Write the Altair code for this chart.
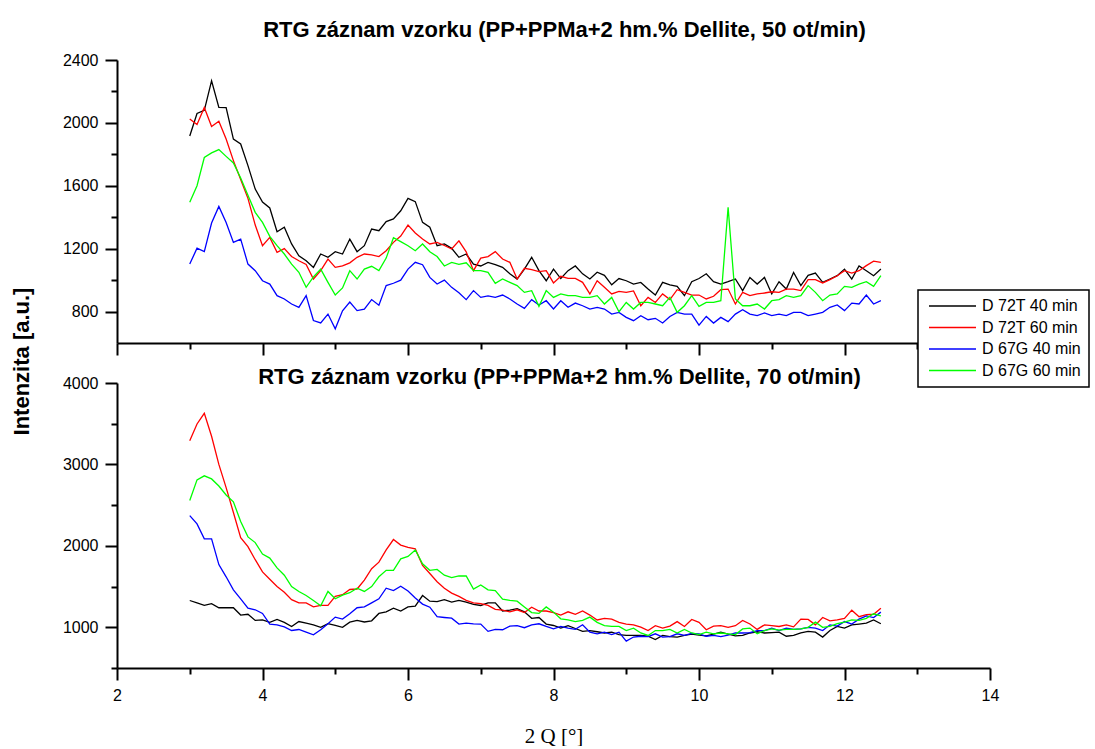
import altair as alt
import pandas as pd

# sampling grid of 2-theta (deg)
X = [round(3.0 + 0.1 * i, 1) for i in range(96)]

SERIES = ["D 72T 40 min", "D 72T 60 min", "D 67G 40 min", "D 67G 60 min"]
COLORS = ["#000000", "#ff0000", "#0000ff", "#00ff00"]

# ---- panel 1: 50 ot/min ----
p50_72T_40 = [1917, 2060, 2080, 2268, 2099, 2097, 1897, 1866, 1728, 1579,
              1497, 1459, 1308, 1336, 1230, 1155, 1123, 1081, 1166, 1145,
              1181, 1166, 1261, 1181, 1219, 1325, 1314, 1372, 1389, 1441,
              1520, 1499, 1367, 1336, 1219, 1230, 1202, 1145, 1166, 1102,
              1090, 1113, 1098, 1081, 1040, 1007, 1070, 1145, 1060, 996,
              1070, 1010, 1060, 1090, 1040, 1007, 1050, 1030, 970, 1010,
              996, 975, 985, 943, 905, 986, 970, 960, 901, 990,
              1010, 1040, 990, 975, 990, 1007, 933, 1017, 975, 1017,
              912, 990, 943, 1049, 965, 1030, 1045, 986, 1007, 1028,
              1070, 1007, 1090, 1060, 1028, 1070]
p50_72T_60 = [2025, 1990, 2098, 1977, 2010, 1897, 1760, 1640, 1520, 1350,
              1219, 1272, 1177, 1200, 1150, 1123, 1100, 1007, 1060, 1134,
              1081, 1090, 1110, 1145, 1166, 1160, 1150, 1187, 1240, 1280,
              1350, 1300, 1261, 1230, 1240, 1220, 1198, 1250, 1180, 1060,
              1140, 1150, 1181, 1134, 1113, 1007, 1075, 1066, 1054, 1060,
              982, 1024, 1011, 1011, 986, 912, 996, 954, 912, 928,
              922, 931, 837, 890, 858, 912, 876, 939, 922, 905,
              905, 880, 897, 939, 943, 848, 922, 901, 912, 918,
              926, 922, 943, 943, 933, 1003, 1003, 982, 1003, 1028,
              1060, 1045, 1060, 1092, 1121, 1113]
p50_67G_40 = [1102, 1203, 1181, 1363, 1469, 1367, 1240, 1261, 1102, 1060,
              996, 975, 901, 880, 848, 827, 901, 743, 728, 784,
              690, 805, 860, 806, 815, 876, 840, 965, 980, 1000,
              1070, 1113, 1098, 1017, 975, 1000, 954, 920, 876, 933,
              890, 900, 890, 905, 880, 848, 820, 876, 842, 869,
              816, 869, 827, 854, 837, 816, 827, 816, 784, 795,
              763, 742, 774, 748, 757, 727, 769, 795, 784, 784,
              714, 769, 727, 763, 736, 784, 812, 784, 774, 791,
              774, 784, 774, 795, 795, 774, 784, 795, 827, 842,
              806, 854, 848, 905, 848, 869]
p50_67G_60 = [1495, 1600, 1780, 1809, 1830, 1787, 1745, 1650, 1540, 1431,
              1367, 1278, 1219, 1166, 1102, 1050, 954, 1020, 1070, 986,
              905, 950, 1060, 1007, 1070, 1088, 1060, 1140, 1270, 1245,
              1219, 1187, 1230, 1180, 1150, 1090, 1113, 1100, 1110, 1060,
              1060, 1049, 980, 1007, 986, 965, 922, 933, 833, 933,
              890, 912, 901, 901, 890, 890, 901, 848, 890, 799,
              858, 816, 858, 858, 848, 837, 890, 795, 837, 901,
              833, 858, 858, 869, 1463, 880, 837, 837, 848, 816,
              869, 876, 901, 890, 901, 965, 922, 869, 905, 912,
              960, 954, 975, 990, 960, 1028]

# ---- panel 2: 70 ot/min ----
p70_72T_40 = [1329, 1300, 1270, 1290, 1240, 1240, 1240, 1150, 1160, 1084,
              1090, 1060, 1096, 1060, 1010, 1071, 1050, 1030, 1000, 1045,
              1022, 1000, 1063, 1084, 1065, 1080, 1170, 1190, 1235, 1200,
              1250, 1260, 1390, 1320, 1315, 1340, 1310, 1330, 1310, 1280,
              1268, 1300, 1300, 1200, 1210, 1230, 1190, 1110, 1120, 1040,
              1022, 990, 1020, 985, 950, 960, 945, 930, 940, 910,
              900, 900, 900, 890, 850, 900, 885, 880, 900, 915,
              905, 895, 915, 940, 915, 895, 900, 930, 945, 930,
              935, 940, 890, 900, 930, 950, 940, 880, 960, 1010,
              990, 1030, 1040, 1050, 1090, 1043]
p70_72T_60 = [3292, 3497, 3628, 3346, 3000, 2715, 2410, 2100, 1990, 1830,
              1680, 1590, 1500, 1430, 1340, 1300, 1300, 1250, 1268, 1268,
              1380, 1400, 1464, 1470, 1580, 1720, 1800, 1950, 2078, 2010,
              1980, 1963, 1760, 1660, 1560, 1480, 1420, 1380, 1330, 1300,
              1290, 1268, 1220, 1210, 1190, 1215, 1180, 1247, 1200, 1200,
              1180, 1150, 1190, 1160, 1200, 1150, 1090, 1110, 1100, 1060,
              1040, 1030, 1002, 960, 1020, 990, 1015, 1070, 1010, 1096,
              1060, 970, 1015, 1020, 1000, 1020, 1084, 1040, 974, 1030,
              1020, 1010, 1030, 1005, 1100, 1096, 1030, 1120, 1080, 1090,
              1110, 1210, 1130, 1155, 1160, 1235]
p70_67G_40 = [2372, 2270, 2086, 2086, 1770, 1620, 1460, 1350, 1235, 1215,
              1170, 1040, 1030, 1005, 961, 973, 941, 908, 970, 1043,
              1125, 1100, 1166, 1240, 1250, 1300, 1350, 1480, 1450, 1505,
              1445, 1360, 1285, 1247, 1130, 1120, 1112, 1040, 1050, 1043,
              1040, 950, 975, 970, 1014, 1020, 995, 1030, 1043, 1010,
              982, 1010, 990, 975, 1031, 940, 920, 940, 910, 940,
              830, 880, 890, 885, 920, 880, 885, 920, 900, 925,
              920, 890, 900, 885, 905, 930, 930, 935, 960, 960,
              990, 960, 990, 975, 980, 1000, 990, 960, 1030, 1015,
              1070, 1040, 1100, 1140, 1120, 1186]
p70_67G_60 = [2556, 2810, 2860, 2822, 2735, 2625, 2540, 2300, 2110, 2040,
              1900, 1850, 1730, 1640, 1500, 1440, 1390, 1330, 1265, 1440,
              1350, 1395, 1425, 1480, 1440, 1500, 1620, 1700, 1700, 1840,
              1870, 1950, 1780, 1700, 1710, 1640, 1610, 1630, 1630, 1470,
              1520, 1460, 1450, 1345, 1330, 1320, 1250, 1180, 1170, 1250,
              1186, 1104, 1090, 1070, 1085, 1125, 1060, 1020, 1010, 1010,
              960, 990, 930, 900, 960, 960, 975, 930, 974, 930,
              910, 940, 920, 930, 920, 910, 980, 990, 920, 960,
              980, 965, 975, 975, 980, 1000, 1063, 1000, 1010, 1045,
              1063, 1090, 1085, 1110, 1166, 1140]

X_MAJOR = [2, 4, 6, 8, 10, 12, 14]
X_MINOR = [3, 5, 7, 9, 11, 13]
Y1_MAJOR = [800, 1200, 1600, 2000, 2400]
Y1_MINOR = [1000, 1400, 1800, 2200]
Y2_MAJOR = [1000, 2000, 3000, 4000]
Y2_MINOR = [500, 1500, 2500, 3500]

TITLE_50 = "RTG záznam vzorku (PP+PPMa+2 hm.% Dellite, 50 ot/min)"
TITLE_70 = "RTG záznam vzorku (PP+PPMa+2 hm.% Dellite, 70 ot/min)"

FONT = "Liberation Sans"
W = 873


def frame(series_values):
    rows = []
    for name, vals in zip(SERIES, series_values):
        for x, v in zip(X, vals):
            rows.append({"x": x, "v": v, "s": name})
    return pd.DataFrame(rows)


def major_axis(values, orient, labels=True, **kw):
    return alt.Axis(values=values, orient=orient, labels=labels, grid=False,
                    format="d",
                    domain=True, domainColor="black", domainWidth=2,
                    ticks=True, tickColor="black", tickWidth=2, tickSize=12,
                    labelFont=FONT, labelFontSize=16, labelColor="black",
                    labelPadding=7, labelFlush=False, labelOverlap=False, **kw)


def minor_axis(values, orient):
    return alt.Axis(values=values, orient=orient, labels=False, grid=False,
                    domain=False, ticks=True, tickColor="black", tickWidth=2,
                    tickSize=6, title=None)


def panel(df, ydom, ymaj, ymin, height, title, title_offset, title_dx,
          xlabels, legend, ytitle, xtitle):
    xs = alt.Scale(domain=[2, 14], nice=False, zero=False)
    ys = alt.Scale(domain=ydom, nice=False, zero=False)
    if ytitle:
        yax = major_axis(ymaj, "left", title="Intenzita [a.u.]",
                         titleFont=FONT, titleFontSize=22, titleFontWeight="bold",
                         titleColor="black", titleAngle=270, titleAlign="center",
                         titleBaseline="alphabetic", titleX=-89, titleY=301)
    else:
        yax = major_axis(ymaj, "left", title=None)
    if xtitle:
        xax = major_axis(X_MAJOR, "bottom", labels=xlabels, title="2 Q [°]",
                         titleFont="Liberation Serif", titleFontSize=21,
                         titleFontWeight="normal", titleColor="black",
                         titleAlign="center", titleBaseline="alphabetic",
                         titleX=W / 2, titleY=74)
    else:
        xax = major_axis(X_MAJOR, "bottom", labels=xlabels, title=None)

    lines = alt.Chart(df).mark_line(strokeWidth=1.3).encode(
        x=alt.X("x:Q", scale=xs, axis=xax),
        y=alt.Y("v:Q", scale=ys, axis=yax),
        color=alt.Color("s:N", scale=alt.Scale(domain=SERIES, range=COLORS),
                        legend=legend),
        order=alt.Order("x:Q"),
    )
    minor = alt.Chart(df).mark_point(opacity=0, size=1).encode(
        x=alt.X("x:Q", scale=xs, axis=minor_axis(X_MINOR, "bottom")),
        y=alt.Y("v:Q", scale=ys, axis=minor_axis(ymin, "left")),
    )
    return alt.layer(lines, minor).resolve_axis(
        x="independent", y="independent"
    ).properties(
        width=W, height=height,
        title=alt.TitleParams(text=title, font=FONT, fontSize=22,
                              fontWeight="bold", color="black",
                              anchor="middle", frame="group",
                              baseline="alphabetic", offset=title_offset,
                              dx=title_dx),
    )


legend = alt.Legend(orient="none", legendX=801, legendY=230, title=None,
                    symbolType="stroke", symbolSize=2209, symbolStrokeWidth=1.6,
                    clipHeight=16, rowPadding=5.5, padding=8,
                    fillColor="white", strokeColor="black",
                    labelFont=FONT, labelFontSize=16, labelColor="black",
                    symbolOffset=2, labelOffset=5)

top = panel(frame([p50_72T_40, p50_72T_60, p50_67G_40, p50_67G_60]),
            [600, 2400], Y1_MAJOR, Y1_MINOR, 283, TITLE_50, -7, 11,
            False, legend, True, False)
bottom = panel(frame([p70_72T_40, p70_72T_60, p70_67G_40, p70_67G_60]),
               [500, 4000], Y2_MAJOR, Y2_MINOR, 285, TITLE_70, -31, 6,
               True, None, False, True)

chart = alt.vconcat(top, bottom, spacing=40, bounds="flush").resolve_scale(
    color="independent"
).properties(
    padding={"left": 10, "top": 19, "right": 0, "bottom": 0},
    background="white",
).configure_view(stroke=None).configure_legend(strokeWidth=1.5)

chart.save("out.html", embed_options={"renderer": "svg", "actions": False})
